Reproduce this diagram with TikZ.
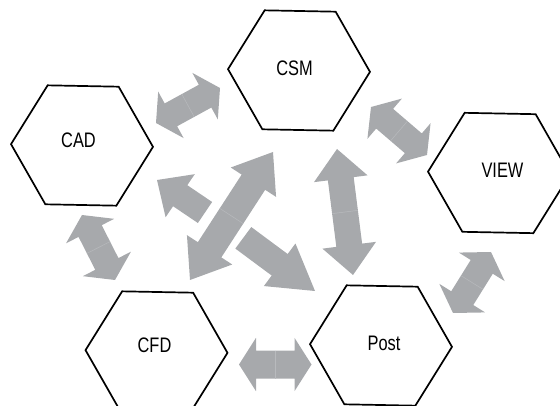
\documentclass[tikz,border=0pt]{standalone}
\usepackage{fontspec}
\setmainfont[FakeStretch=0.78]{Liberation Sans}
\usetikzlibrary{calc}

\definecolor{arrowgray}{RGB}{167,169,172}
\definecolor{seamgray}{RGB}{184,186,189}

\tikzset{
  hexline/.style={draw=black, line width=1.7pt, line join=miter},
  hextext/.style={inner sep=0pt, font=\fontsize{21}{21}\selectfont},
  blockfill/.style={fill=arrowgray},
  seam/.style={draw=seamgray, line width=0.5pt}
}

% hexagonal frame centred on a coordinate
\newcommand\hexcell[1]{%
  \begin{scope}[shift={(#1)}, rotate=-1.1]
    \draw[hexline] (-71,0) -- (-35.5,-59.5) -- (35.5,-59.5) -- (71,0)
      -- (35.5,59.5) -- (-35.5,59.5) -- cycle;
  \end{scope}}

% double block arrow: #1,#2 tips; #3 shaft half width; #4 head half width; #5 head length
\newcommand\dblarrow[5]{%
  \fill[blockfill] (#1)
    -- ($(#1)!#5!(#2)!#4!90:(#2)$) -- ($(#1)!#5!(#2)!#3!90:(#2)$)
    -- ($(#2)!#5!(#1)!#3!-90:(#1)$) -- ($(#2)!#5!(#1)!#4!-90:(#1)$)
    -- (#2)
    -- ($(#2)!#5!(#1)!#4!90:(#1)$) -- ($(#2)!#5!(#1)!#3!90:(#1)$)
    -- ($(#1)!#5!(#2)!#3!-90:(#2)$) -- ($(#1)!#5!(#2)!#4!-90:(#2)$)
    -- cycle;
  \draw[seam] ($(#1)!.5!(#2)!#3!90:(#2)$) -- ($(#1)!.5!(#2)!#3!-90:(#2)$);}

% single block arrow: #1 tail, #2 tip; #3 shaft half width; #4 head half width; #5 head length
\newcommand\sglarrow[5]{%
  \fill[blockfill] ($(#1)!#3!90:(#2)$)
    -- ($(#2)!#5!(#1)!#3!-90:(#1)$) -- ($(#2)!#5!(#1)!#4!-90:(#1)$)
    -- (#2)
    -- ($(#2)!#5!(#1)!#4!90:(#1)$) -- ($(#2)!#5!(#1)!#3!90:(#1)$)
    -- ($(#1)!#3!-90:(#2)$) -- cycle;}

\begin{document}
\begin{tikzpicture}[x=1pt, y=-1pt]
  \useasboundingbox (0,0) rectangle (560,406);
  \clip (0,0) rectangle (560,406);

  % hexagon centres
  \coordinate (csmc)  at (299,70.5);
  \coordinate (cadc)  at (82,145.5);
  \coordinate (viewc) at (499,173);
  \coordinate (cfdc)  at (156.5,351.5);
  \coordinate (postc) at (381,345.5);

  \hexcell{csmc}
  \hexcell{cadc}
  \hexcell{viewc}
  \hexcell{cfdc}
  \hexcell{postc}

  \node[hextext] (csm)  at (294.5,68.5)  {CSM};
  \node[hextext] (cad)  at (78.5,140.5)  {CAD};
  \node[hextext] (view) at (502.5,170.5) {VIEW};
  \node[hextext] (cfd)  at (154.5,345)   {CFD};
  \node[hextext] (post) at (384,343)     {Post};

  % arrow ends
  \coordinate (cadcsm-a)  at (156,123);
  \coordinate (cadcsm-b)  at (220,88);
  \coordinate (csmview-a) at (371,107);
  \coordinate (csmview-b) at (427,155);
  \coordinate (cadcfd-a)  at (82,215);
  \coordinate (cadcfd-b)  at (115,280);
  \coordinate (viewpost-a) at (491,252);
  \coordinate (viewpost-b) at (453,313);
  \coordinate (cfdpost-a) at (239,364.5);
  \coordinate (cfdpost-b) at (311.5,364.5);
  \coordinate (csmpost-a) at (337,149);
  \coordinate (csmpost-b) at (353,275);
  \coordinate (csmcfd-a)  at (273,152);
  \coordinate (csmcfd-b)  at (190,280);
  \coordinate (tocad-t)   at (205,212.5);
  \coordinate (tocad-h)   at (157,180);
  \coordinate (topost-t)  at (243.3,237.8);
  \coordinate (topost-h)  at (315,291);

  \dblarrow{cadcsm-a}{cadcsm-b}{13pt}{26.5pt}{17pt}
  \dblarrow{csmview-a}{csmview-b}{13pt}{26.5pt}{18pt}
  \dblarrow{cadcfd-a}{cadcfd-b}{13pt}{27pt}{18pt}
  \dblarrow{viewpost-a}{viewpost-b}{13pt}{27pt}{17.5pt}
  \dblarrow{cfdpost-a}{cfdpost-b}{14pt}{26.7pt}{17pt}
  \dblarrow{csmpost-a}{csmpost-b}{13pt}{27pt}{30pt}
  \dblarrow{csmcfd-a}{csmcfd-b}{14pt}{27pt}{36pt}
  \sglarrow{tocad-t}{tocad-h}{12.7pt}{26pt}{28pt}
  \sglarrow{topost-t}{topost-h}{13.4pt}{26.5pt}{44pt}
\end{tikzpicture}
\end{document}
